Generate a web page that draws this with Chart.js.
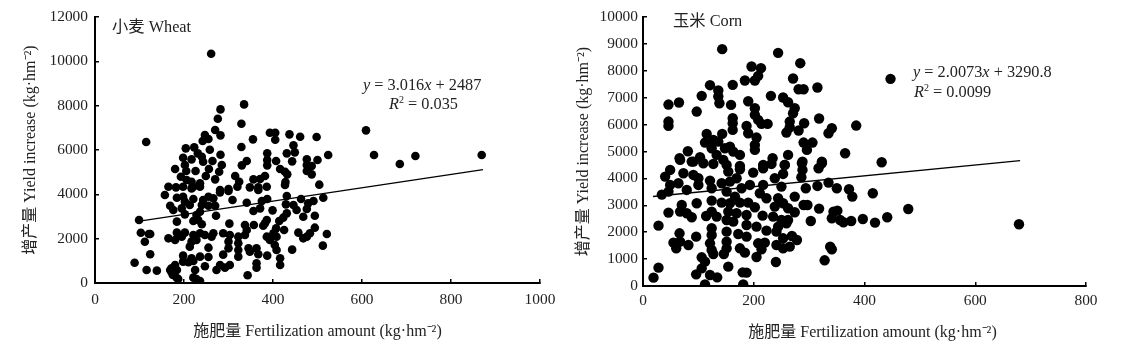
<!DOCTYPE html>
<html>
<head>
<meta charset="utf-8">
<script src="https://cdn.jsdelivr.net/npm/chart.js@4"></script>
<style>
html, body { margin: 0; padding: 0; background: #fff; }
#page { position: relative; width: 1128px; height: 355px; overflow: hidden; }
canvas { position: absolute; top: 0; }
#boxA { left: 0; }
#boxB { left: 560px; }
.note { position: absolute; font: 16.3px "Liberation Serif", "Noto Sans CJK SC", serif; color: #222; white-space: nowrap; line-height: 18px; }
.note sup { font-size: 10px; line-height: 0; }
</style>
</head>
<body>
<div id="page">
  <canvas id="boxA" width="560" height="355"></canvas>
  <canvas id="boxB" width="568" height="355"></canvas>
  <div class="note" style="left:112px;top:18px">小麦 Wheat</div>
  <div class="note" style="left:363px;top:76px"><i>y</i> = 3.016<i>x</i> + 2487</div>
  <div class="note" style="left:389px;top:95px"><i>R</i><sup>2</sup> = 0.035</div>
  <div class="note" style="left:673px;top:12px">玉米 Corn</div>
  <div class="note" style="left:913px;top:63px"><i>y</i> = 2.0073<i>x</i> + 3290.8</div>
  <div class="note" style="left:914px;top:83px"><i>R</i><sup>2</sup> = 0.0099</div>
</div>
<script>
// 小麦
let wheatX = [282,276,335,329,270,282,247,255,242,393,405,405,437,461,498,355,446,204,223,258,329,282,231,431,449,387,524,198,217,240,243,264,341,387,407,443,476,500,285,330,387,180,202,205,226,256,279,416,427,432,476,487,476,487,315,382,371,356,249,270,193,206,217,236,324,428,504,165,182,198,221,236,320,348,367,386,300,281,
157,217,281,300,367,427,184,198,221,202,255,243,266,309,341,375,387,431,463,491,479,513,169,176,195,213,202,240,255,270,236,228,371,356,399,429,446,453,476,431,423,468,494,272,414,184,221,232,240,302,337,357,382,386,378,494,425,407,341,184,202,124,165,180,195,221,236,247,266,288,303,322,337,386,401,408,457,476,483,521,468,217,228,262,300,322,393,404,213,255,300,322,345,363,408,443,512,124,198,217,236,255,288,322,348,367,387,416,210,180,198,221,247,363,363,416,281,303,292,273,172,184,139,172,225,343,221,187,236,228,176,
99,103,121,112,89,116,169,180,175,184,115,261,234,609,627,685,720,869]
let wheatY = [7832,7411,8058,7186,6900,6660,6675,6495,6404,6780,6780,6465,6705,6600,6585,6480,6209,6074,6119,6014,6134,5788,5848,5848,5893,5848,5773,5653,5578,5698,5473,5503,5503,5548,5503,5488,5578,5548,5322,5307,5307,5142,5322,5052,5052,5142,5022,5142,5022,4901,5322,5277,5052,4901,4826,4826,4691,4676,4826,4676,4796,4646,4571,4496,4571,4556,4436,4345,4315,4345,4345,4345,4345,4315,4315,4345,4240,4195,
3969,4270,4089,4149,4195,4420,3849,3894,3789,3669,3894,3744,3819,3744,3623,3699,3789,3924,3789,3699,3593,3849,3488,3293,3368,3518,3097,3518,3488,3488,3218,3067,3368,3248,3278,3548,3518,3293,3338,3142,2947,2992,3037,3037,2797,2767,2797,2842,2647,2677,2616,2616,2692,2842,2586,2496,2391,2466,2391,2271,2271,2211,2015,1940,2090,2166,2241,2166,2241,2241,2166,2090,2166,2090,2241,2090,2271,2090,2241,2211,2015,1865,1940,2090,1865,1790,1940,1715,1640,1594,1564,1489,1564,1564,1489,1504,1685,1294,1234,1113,1189,1174,1279,1189,1414,1294,1234,1113,933,813,963,993,753,888,693,813,813,813,693,587,662,587,557,482,587,347,242,182,91,182,392,
2841,2268,2210,1863,915,586,586,676,361,225,6359,10341,60,6887,5773,5367,5728,5773]
let wheatLineX = [100, 872]
let wheatLineY = [2789, 5117]

// 玉米
let cornX = [143,244,284,196,213,271,208,202,184,162,121,136,281,290,315,106,231,136,253,138,190,159,262,46,65,274,202,97,202,271,162,46,46,162,208,214,225,265,318,291,162,187,190,385,265,259,281,341,335,115,143,205,127,112,136,124,157,148,163,175,202,202,290,306,296,365,81,66,103,88,133,145,234,262,288,323,217,256,175,
49,40,67,91,109,127,151,154,175,199,217,232,256,253,238,287,288,286,317,323,73,91,100,121,64,49,100,79,46,34,124,142,157,169,178,193,217,250,151,211,223,274,294,315,335,350,372,378,415,97,124,142,166,157,175,190,202,244,253,238,262,274,290,297,318,70,67,46,79,88,114,124,133,154,169,187,216,235,250,262,344,351,341,356,362,376,397,303,28,124,151,163,187,205,223,244,259,124,151,172,187,66,96,55,67,82,60,121,151,124,151,146,127,175,184,208,220,214,241,241,253,265,269,278,253,205,240,338,341,328,106,112,154,28,19,106,96,121,134,112,180,187,181,
447,431,419,441,479,679]
let cornY = [8804,8667,8283,8159,8097,7713,7812,7638,7638,7477,7465,7266,7316,7316,7378,7068,7068,7043,7006,6795,6869,6733,6832,6745,6820,6609,6609,6485,6361,6423,6237,6113,5952,6051,6175,6026,6026,6113,6225,6051,5803,5952,5679,5964,5902,5704,5778,5865,5679,5654,5654,5518,5431,5332,5369,5121,5183,5121,4997,4873,5245,5059,5332,5332,5059,4935,5009,4749,4786,4625,4873,4687,4749,4873,4625,4625,4501,4501,4464,
4315,4067,4687,4625,4563,4538,4501,4253,4340,4216,4377,4538,4501,4166,4005,4563,4315,4042,4377,4563,4191,4129,4005,3918,3819,3757,3757,3571,3509,3397,3633,3819,3881,4005,3633,3757,3757,3695,3509,3447,3261,3323,3633,3720,3844,3633,3596,3323,3447,3075,3174,3100,3323,3075,3100,3100,2926,3261,3075,2951,2889,2740,3013,3013,2877,3013,2765,2728,2703,2554,2604,2765,2579,2765,2703,2641,2616,2579,2455,2455,2765,2802,2517,2455,2368,2418,2492,2418,2244,2145,2455,2393,2269,2207,2058,2207,2331,1897,2021,1934,1835,1959,1835,1612,1649,1525,1401,1587,1649,1339,1401,1190,1190,1401,1240,1587,1612,1364,2021,1525,1401,1463,1860,1711,1773,1079,893,1463,1364,955,1066,905,719,682,310,657,434,409,322,62,508,496,62,
7700,4600,2356,2554,2864,2294]
let cornLineX = [18, 681]
let cornLineY = [3327, 4658]

// 座標軸
let wheatXMax = 1000, wheatXStep = 200, wheatYMax = 12000, wheatYStep = 2000
let cornXMax = 800, cornXStep = 200, cornYMax = 10000, cornYStep = 1000
let xTitle = '施肥量 Fertilization amount (kg·hm⁻²)'
let yTitle = '增产量 Yield increase (kg·hm⁻²)'

const fontFamily = '"Liberation Serif", "Noto Sans CJK SC", serif'

function toPoints(xs, ys) {
    return xs.map((x, i) => ({ x: x, y: ys[i] }))
}

function setChart(id, cfg) {
    const ctx = document.getElementById(id).getContext('2d')
    const axisSet = {
        type: 'linear',
        min: 0,
        border: { display: true, color: '#000', width: 2 },
        grid: { drawOnChartArea: false, drawTicks: true, tickLength: -4, color: '#000', lineWidth: 1.5 },
    }
    const tickFont = { family: fontFamily, size: 15.4 }
    const titleFont = { family: fontFamily, size: 16 }
    return new Chart(ctx, {
        type: 'scatter',
        data: {
            datasets: [
                {
                    data: toPoints(cfg.x, cfg.y),
                    backgroundColor: '#000',
                    borderWidth: 0,
                    pointRadius: cfg.radius,
                },
                {
                    data: toPoints(cfg.lineX, cfg.lineY),
                    showLine: true,
                    borderColor: '#000',
                    borderWidth: 1.3,
                    pointRadius: 0,
                }
            ]
        },
        options: {
            responsive: false,
            animation: false,
            layout: { padding: { left: 0, top: cfg.top, right: cfg.right, bottom: 0 } },
            plugins: { legend: { display: false }, tooltip: { enabled: false } },
            scales: {
                x: Object.assign({}, axisSet, {
                    position: 'bottom',
                    max: cfg.xMax,
                    ticks: { stepSize: cfg.xStep, autoSkip: false, maxRotation: 0, color: '#222', padding: cfg.xTickPad, font: tickFont, callback: (v) => String(v) },
                    title: { display: true, text: cfg.xLabel, color: '#222', padding: cfg.xTitlePad, font: titleFont },
                    // 軸的高度固定,標籤不另外佔邊距
                    afterFit: (scale) => { scale.height = cfg.xHeight; scale.paddingLeft = 0; scale.paddingRight = 0 },
                }),
                y: Object.assign({}, axisSet, {
                    position: 'left',
                    max: cfg.yMax,
                    ticks: { stepSize: cfg.yStep, autoSkip: false, color: '#222', padding: cfg.yTickPad, font: tickFont, callback: (v) => String(v) },
                    title: { display: true, text: yTitle, color: '#222', padding: cfg.yTitlePad, font: titleFont },
                    afterFit: (scale) => { scale.width = cfg.yWidth; scale.paddingTop = 0; scale.paddingBottom = 0 },
                }),
            },
        },
    })
}

setChart('boxA', {
    x: wheatX, y: wheatY, lineX: wheatLineX, lineY: wheatLineY, radius: 4.3,
    xMax: wheatXMax, xStep: wheatXStep, yMax: wheatYMax, yStep: wheatYStep, xLabel: xTitle,
    top: 17, right: 20, xHeight: 72, yWidth: 95, xTitlePad: 14, yTitlePad: 21,
    xTickPad: 12, yTickPad: 11,
})
setChart('boxB', {
    x: cornX, y: cornY, lineX: cornLineX, lineY: cornLineY, radius: 5.2,
    xMax: cornXMax, xStep: cornXStep, yMax: cornYMax, yStep: cornYStep, xLabel: '\u2003' + xTitle,
    top: 17, right: 42, xHeight: 69, yWidth: 83, xTitlePad: 13, yTitlePad: 14,
    xTickPad: 10, yTickPad: 9,
})
</script>
</body>
</html>
